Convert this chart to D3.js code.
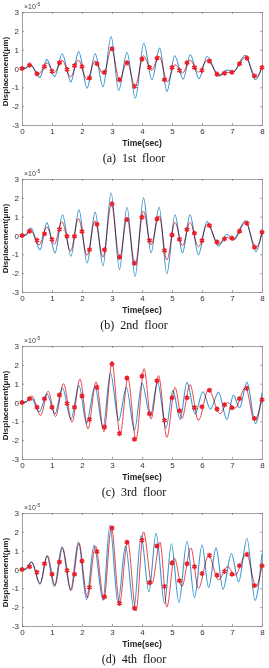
<!DOCTYPE html>
<html>
<head>
<meta charset="utf-8">
<script src="https://d3js.org/d3.v7.min.js"></script>
<style>
    body { margin: 0; background: #fff; }
    .tick text { font-family: "Liberation Sans", Arial, sans-serif; font-size: 8px; fill: #333; }
    .tick line { stroke: #666; stroke-width: 0.6; }
    .domain { stroke: #8a8a8a; stroke-width: 0.8; }
    .lbl { font-family: "Liberation Sans", Arial, sans-serif; font-weight: bold; fill: #222; }
    .cap { font-family: "Liberation Serif", "Times New Roman", serif; font-size: 12px; fill: #111; }
</style>
</head>
<body>
<svg id="chart" width="269" height="668"></svg>
<script>
    const timeTicks = [0, 1, 2, 3, 4, 5, 6, 7, 8];
    const dispTicks = [-3, -2, -1, 0, 1, 2, 3];
    const captions = ["(a)  1st  floor", "(b)  2nd  floor", "(c)  3rd  floor", "(d)  4th  floor"];
    const markerTimes = [0, 0.25, 0.5, 0.75, 1, 1.25, 1.5, 1.75, 2, 2.25, 2.5, 2.75, 3, 3.25, 3.5, 3.75,
        4, 4.25, 4.5, 4.75, 5, 5.25, 5.5, 5.75, 6, 6.25, 6.5, 6.75, 7, 7.25, 7.5, 7.75, 8];

    // blue = reference response, red = identified model (peaks / troughs)
    const blue1 = [[0,0],[0.12,0.02],[0.28,0.2],[0.59,-0.47],[0.83,0.47],[1.09,-0.43],[1.34,0.78],[1.63,-0.71],[1.89,0.9],[2.17,-1.04],[2.44,0.78],[2.7,-0.97],[2.97,1.7],[3.22,-1.17],[3.5,0.85],[3.78,-1.57],[4.06,1.34],[4.33,-0.6],[4.59,1.08],[4.83,-1.22],[5.09,0.68],[5.37,-0.57],[5.61,0.73],[5.9,-0.54],[6.17,0.64],[6.56,-0.4],[6.83,-0.08],[7.05,-0.17],[7.44,0.7],[7.79,-0.6],[8,0.1]];
    const red1 = [[0,0],[0.12,0.02],[0.28,0.2],[0.55,-0.3],[0.83,0.3],[1.08,-0.22],[1.33,0.45],[1.62,-0.45],[1.88,0.45],[2.17,-0.6],[2.43,0.4],[2.72,-0.3],[2.98,1.05],[3.25,-0.6],[3.5,0.35],[3.77,-0.95],[4.05,0.68],[4.32,-0.1],[4.57,0.65],[4.85,-0.7],[5.1,0.2],[5.35,-0.25],[5.6,0.45],[5.88,-0.2],[6.18,0.45],[6.55,-0.35],[6.8,-0.2],[7.0,-0.22],[7.45,0.6],[7.8,-0.45],[8,0.05]];
    const marks1 = [0,0.18,-0.28,0.1,-0.15,0.3,-0.05,0.15,0.1,-0.5,0.25,-0.2,1.05,-0.6,0.3,-0.95,0.5,0.05,0.55,-0.6,0.05,-0.1,0.3,0.05,-0.1,0.4,-0.3,-0.25,-0.2,0.25,0.55,-0.4,0.05];

    const blue2 = [[0,0],[0.12,0.02],[0.3,0.4],[0.6,-0.76],[0.83,0.67],[1.1,-0.92],[1.35,1.1],[1.63,-1.1],[1.9,1.36],[2.17,-1.46],[2.44,1.24],[2.7,-1.62],[2.97,2.26],[3.25,-1.8],[3.5,1.5],[3.77,-2.17],[4.05,2.0],[4.3,-0.92],[4.57,1.5],[4.83,-2.03],[5.1,1.1],[5.35,-0.92],[5.6,1.1],[5.88,-1.02],[6.17,0.74],[6.55,-0.56],[6.83,0.05],[7.05,-0.2],[7.45,0.78],[7.8,-0.85],[8,0.18]];
    const red2 = [[0,0],[0.12,0.02],[0.28,0.28],[0.57,-0.5],[0.83,0.45],[1.08,-0.47],[1.33,0.73],[1.62,-0.83],[1.88,0.9],[2.17,-1.05],[2.43,0.78],[2.7,-1.15],[2.98,1.68],[3.25,-1.2],[3.5,0.9],[3.77,-1.55],[4.05,1.3],[4.3,-0.5],[4.57,1.05],[4.83,-1.3],[5.1,0.7],[5.35,-0.55],[5.6,0.7],[5.88,-0.6],[6.18,0.6],[6.55,-0.45],[6.83,-0.1],[7.05,-0.25],[7.45,0.7],[7.8,-0.65],[8,0.15]];
    const marks2 = [0,0.23,-0.26,0.09,-0.21,0.33,-0.04,-0.04,0.21,-0.75,0.6,-0.76,1.68,-1.15,0.85,-1.47,0.97,-0.27,0.88,-0.8,0.03,-0.2,0.32,0.12,-0.27,0.53,-0.35,-0.18,-0.14,0.23,0.65,-0.62,0.18];

    const blue3 = [[0,0],[0.12,0.02],[0.3,0.25],[0.58,-0.5],[0.83,0.45],[1.1,-0.6],[1.35,0.77],[1.63,-0.9],[1.9,0.9],[2.15,-1.1],[2.43,0.85],[2.7,-1.35],[2.95,1.57],[3.22,-0.95],[3.48,0.8],[3.75,-1.47],[4.0,1.02],[4.28,-0.7],[4.52,1.07],[4.8,-1.35],[5.03,0.63],[5.27,-0.9],[5.5,1.07],[5.77,-0.62],[6.03,0.57],[6.28,-0.35],[6.55,0.55],[6.83,-0.9],[7.05,0.4],[7.25,-0.28],[7.5,1.07],[7.78,-1.12],[8,0.52]];
    const red3 = [[0,0],[0.12,0.02],[0.33,0.35],[0.62,-0.7],[0.87,0.6],[1.12,-0.75],[1.38,1.0],[1.67,-1.05],[1.93,1.25],[2.2,-1.4],[2.47,1.1],[2.73,-1.55],[3.0,2.1],[3.27,-1.7],[3.53,1.3],[3.8,-2.0],[4.07,1.8],[4.3,-0.88],[4.55,1.43],[4.83,-1.85],[5.1,0.8],[5.33,-0.85],[5.6,0.95],[5.88,-0.95],[6.22,0.7],[6.6,-0.6],[6.85,0.0],[7.1,-0.3],[7.45,0.8],[7.75,-0.95],[8,0.2]];
    const marks3 = [0,0.2,-0.25,0.2,-0.25,0.4,-0.05,-0.25,0.35,-0.9,0.8,-1.3,2.05,-1.65,1.3,-1.95,1.4,-0.6,1.15,-0.95,0.25,-0.44,0.25,-0.27,-0.23,0.65,-0.35,-0.12,-0.28,0.2,0.75,-0.85,0.15];

    const blue4 = [[0,0],[0.12,0.02],[0.32,0.4],[0.6,-0.78],[0.83,0.73],[1.08,-0.9],[1.33,1.2],[1.62,-1.1],[1.88,1.47],[2.15,-1.6],[2.4,1.3],[2.7,-1.63],[2.93,2.36],[3.2,-1.78],[3.45,1.24],[3.73,-2.08],[3.97,1.8],[4.23,-1.19],[4.47,1.92],[4.75,-1.8],[4.98,1.37],[5.23,-1.75],[5.5,1.5],[5.75,-1.5],[6.0,1.3],[6.22,-0.95],[6.47,1.15],[6.7,-1.05],[6.98,0.85],[7.22,-0.66],[7.5,1.65],[7.77,-1.64],[8,0.85]];
    const red4 = [[0,0],[0.12,0.02],[0.32,0.4],[0.6,-0.75],[0.85,0.73],[1.1,-0.85],[1.35,1.15],[1.64,-1.1],[1.9,1.4],[2.18,-1.5],[2.45,1.25],[2.73,-1.6],[2.98,2.25],[3.25,-1.8],[3.52,1.5],[3.8,-2.2],[4.05,2.0],[4.33,-0.75],[4.6,1.45],[4.83,-2.0],[5.08,0.6],[5.33,-0.9],[5.63,1.15],[5.88,-1.0],[6.22,0.75],[6.55,-0.55],[6.85,0.15],[7.1,-0.3],[7.48,0.85],[7.8,-0.9],[8,0.2]];
    const marks4 = [0,0.15,-0.15,0.3,-0.25,0.4,-0.05,-0.25,0.45,-0.95,0.95,-1.45,2.2,-1.8,1.45,-2.05,1.55,-0.7,1.25,-0.9,0.35,-0.6,0.3,0.15,-0.22,0.75,-0.3,-0.1,-0.25,0.2,0.8,-0.85,0.2];

    const blues = [blue1, blue2, blue3, blue4];
    const reds = [red1, red2, red3, red4];
    const marks = [marks1, marks2, marks3, marks4];

    const svg = d3.select("#chart");
    const left = 22, right = 262, plotH = 113;
    const panelTop = [12, 179, 346, 513];

    const x = d3.scaleLinear().domain([0, 8]).range([left, right]);
    const y = d3.scaleLinear().domain([-3, 3]).range([plotH, 0]);
    const line = d3.line().x(d => x(d[0])).y(d => y(d[1])).curve(d3.curveMonotoneX);
    const star = d3.symbol().type(d3.symbolAsterisk).size(18);
    const plain = d => String(d);

    panelTop.forEach((top, i) => {
        const g = svg.append("g").attr("transform", `translate(0,${top})`);

        // box with inward ticks, MATLAB style
        g.append("g").attr("transform", `translate(0,${plotH})`)
            .call(d3.axisBottom(x).tickValues(timeTicks).tickSizeInner(-2).tickSizeOuter(0).tickPadding(3).tickFormat(plain));
        g.append("g").call(d3.axisTop(x).tickValues(timeTicks).tickSizeInner(-2).tickSizeOuter(0).tickFormat(""));
        g.append("g").attr("transform", `translate(${left},0)`)
            .call(d3.axisLeft(y).tickValues(dispTicks).tickSizeInner(-2).tickSizeOuter(0).tickPadding(3).tickFormat(plain));
        g.append("g").attr("transform", `translate(${right},0)`)
            .call(d3.axisRight(y).tickValues(dispTicks).tickSizeInner(-2).tickSizeOuter(0).tickFormat(""));

        g.append("path").datum(blues[i])
            .attr("d", line)
            .attr("fill", "none")
            .attr("stroke", "#3b96cf")
            .attr("stroke-width", 1.1);
        g.append("path").datum(reds[i])
            .attr("d", line)
            .attr("fill", "none")
            .attr("stroke", "#e8464e")
            .attr("stroke-width", 1)
            .style("mix-blend-mode", "multiply");
        g.selectAll(".mk").data(marks[i]).join("path")
            .attr("class", "mk")
            .attr("transform", (d, j) => `translate(${x(markerTimes[j])},${y(d)})`)
            .attr("d", star)
            .attr("fill", "none")
            .attr("stroke", "#e8202a")
            .attr("stroke-width", 1.6);

        // exponent
        const ex = g.append("text")
            .attr("x", left + 2).attr("y", -3.5)
            .style("font-family", "Liberation Sans, Arial, sans-serif")
            .style("font-size", "7px").style("fill", "#444");
        ex.append("tspan").text("×10");
        ex.append("tspan").attr("dy", -3).style("font-size", "5px").text("-5");

        g.append("text")
            .attr("class", "lbl")
            .attr("transform", `translate(8,${plotH / 2 + 3}) rotate(-90)`)
            .attr("text-anchor", "middle")
            .style("font-size", "8px")
            .text("Displacement(μm)");
        g.append("text")
            .attr("class", "lbl")
            .attr("x", (left + right) / 2).attr("y", plotH + 21)
            .attr("text-anchor", "middle")
            .style("font-size", "8.5px")
            .text("Time(sec)");
        g.append("text")
            .attr("class", "cap")
            .attr("x", 134).attr("y", plotH + 37)
            .attr("text-anchor", "middle")
            .style("white-space", "pre")
            .text(captions[i]);
    });
</script>
</body>
</html>
